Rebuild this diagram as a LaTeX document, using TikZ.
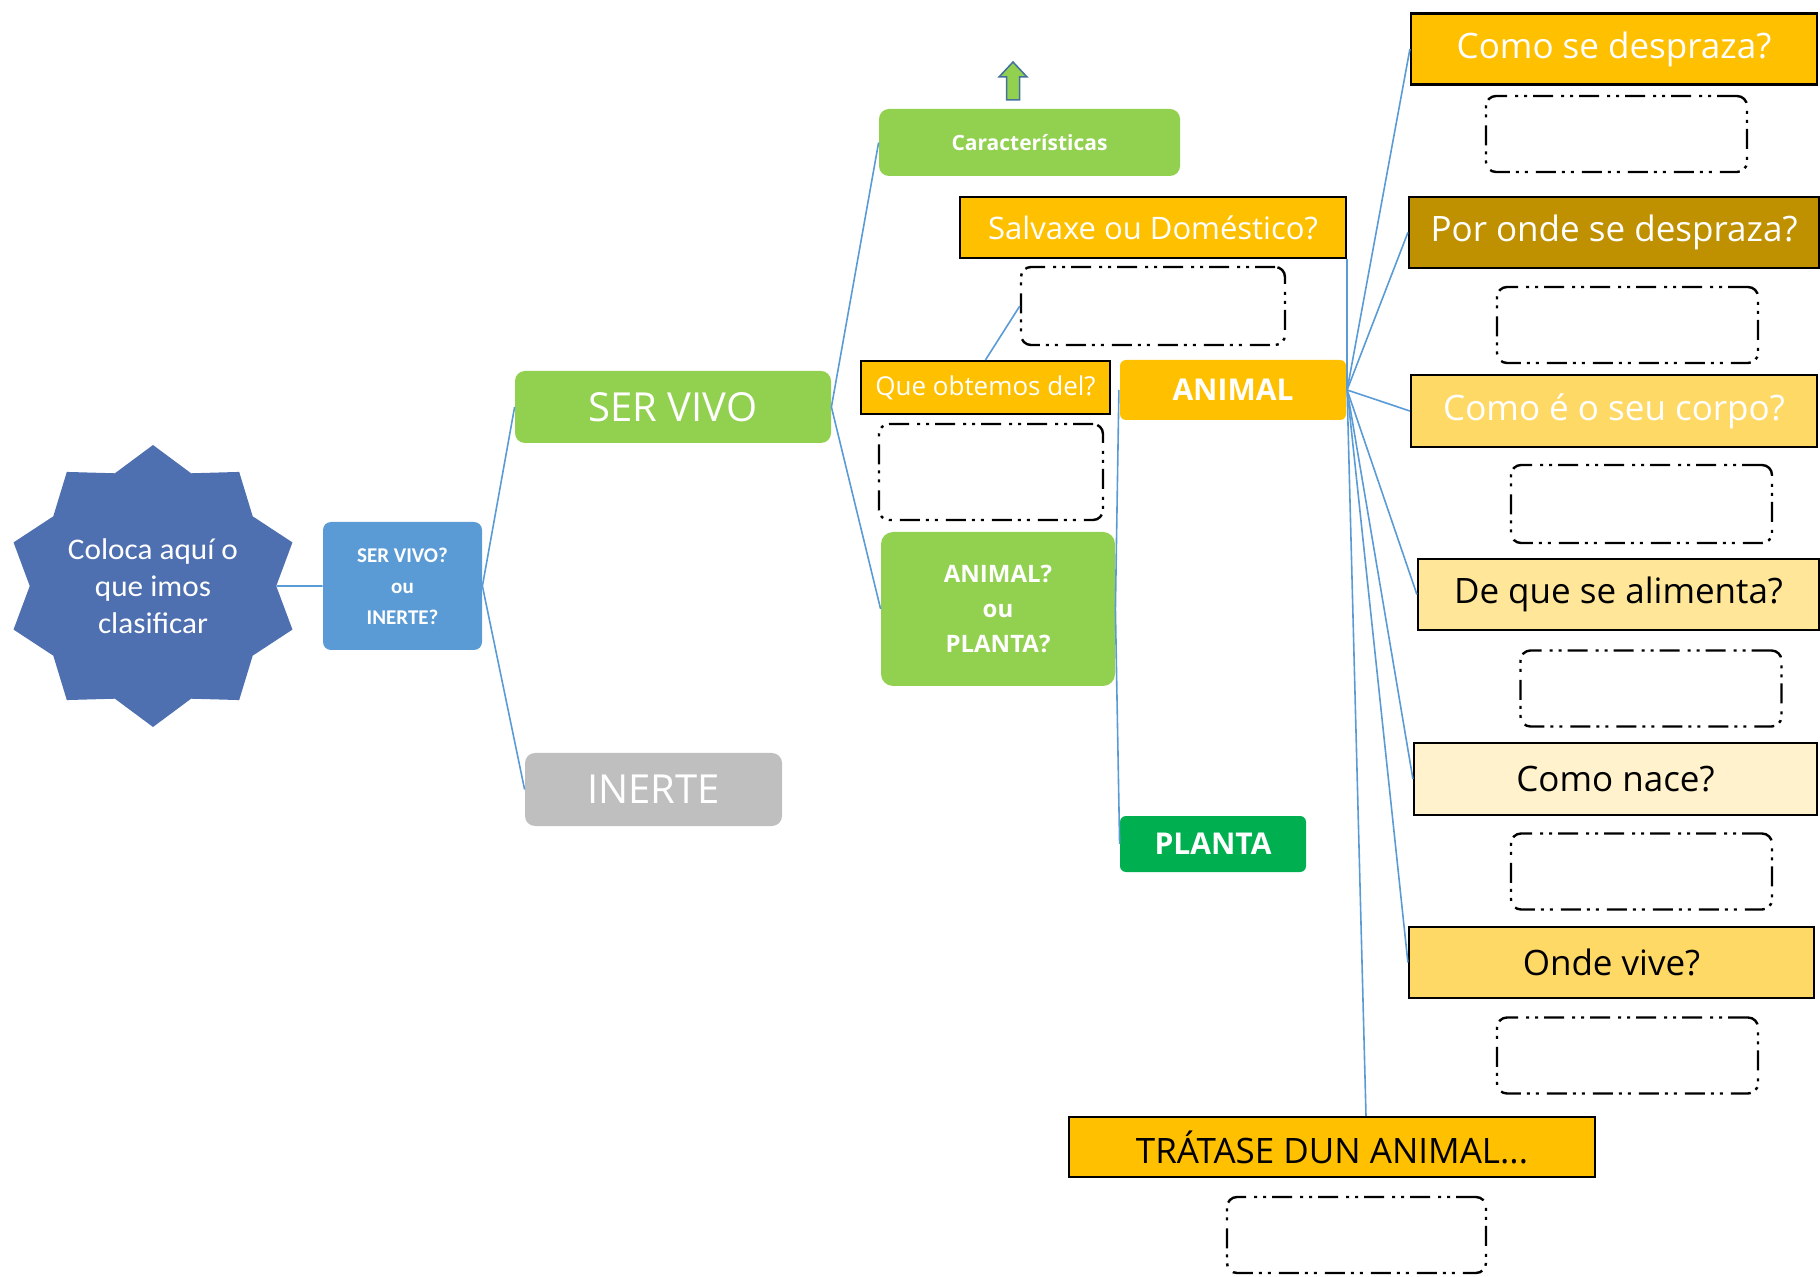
\documentclass[tikz,border=0pt]{standalone}
\usepackage{fontspec}
\setmainfont{Open Sans}
\newfontfamily\carlito{Carlito}
\usetikzlibrary{shapes.geometric,calc}

\definecolor{verde}{HTML}{92D050}
\definecolor{verdeosc}{HTML}{00B050}
\definecolor{azul}{HTML}{5B9BD5}
\definecolor{azulestrela}{RGB}{78,112,176}
\definecolor{gris}{HTML}{BFBFBF}
\definecolor{ouro}{HTML}{FFC000}
\definecolor{ouroosc}{HTML}{BF9000}
\definecolor{ouroclaro}{HTML}{FFD966}
\definecolor{amarelo}{HTML}{FFE699}
\definecolor{crema}{HTML}{FFF2CC}
\definecolor{linha}{HTML}{5B9BD5}
\definecolor{frecha}{HTML}{41719C}

\tikzstyle{link}=[draw=linha,line width=0.8pt]
\tikzstyle{verdebox}=[rounded corners=5pt,fill=verde,text=white,inner sep=0pt]
\tikzstyle{ourobox}=[draw=black,line width=1.1pt,fill=ouro,text=white,inner sep=0pt]
\tikzstyle{pregunta}=[ourobox,font=\fontsize{17.5}{21}\selectfont,minimum width=203pt,minimum height=35.5pt]
\tikzstyle{oco}=[draw=black,line width=1.2pt,rounded corners=5pt,inner sep=0pt,
  dash pattern=on 10pt off 3pt on 1.5pt off 3pt on 1.5pt off 4pt,
  minimum width=130.5pt,minimum height=38pt]

\begin{document}
\begin{tikzpicture}[x=0.5pt,y=-0.5pt]
    \useasboundingbox (0,0) rectangle (1820,1277);
    % primeira decision
    \node[star,star points=10,star point ratio=1.19,minimum size=141pt,inner sep=0pt,xscale=1.04,
          fill=azulestrela,text=white,align=center,font=\carlito\fontsize{15}{18.5}\selectfont]
          (obxecto) at (153,586) {Coloca aquí o\\que imos\\clasificar};
    \node[rounded corners=4pt,fill=azul,text=white,inner sep=0pt,align=center,
          minimum width=79.5pt,minimum height=64pt,font=\carlito\bfseries\fontsize{10.5}{15.5}\selectfont]
          (vivoinerte) at (402.5,586) {SER VIVO?\\ou\\INERTE?};
    \node[verdebox,minimum width=158pt,minimum height=36pt,font=\fontsize{20}{24}\selectfont]
          (servivo) at (673,407) {SER VIVO};
    \node[verdebox,fill=gris,minimum width=128.5pt,minimum height=36.5pt,font=\fontsize{20}{24}\selectfont]
          (inerte) at (653.5,789.5) {INERTE};

    % ser vivo
    \node[verdebox,minimum width=150.5pt,minimum height=33.5pt,font=\bfseries\fontsize{10.5}{13}\selectfont]
          (caract) at (1029.5,142.5) {Características};
    \draw[fill=verde,draw=frecha,line width=0.75pt] (1006.5,100) -- (1006.5,77) -- (999,77) -- (1013,62)
          -- (1027,77) -- (1019.5,77) -- (1019.5,100) -- cycle;
    \node[verdebox,rounded corners=6pt,align=center,minimum width=117pt,minimum height=77pt,
          font=\bfseries\fontsize{12}{17.5}\selectfont]
          (animalplanta) at (998,609) {ANIMAL?\\ou\\PLANTA?};
    \node[ourobox,draw=none,rounded corners=3pt,minimum width=113pt,minimum height=30pt,
          font=\bfseries\fontsize{15}{18}\selectfont] (animal) at (1233,390) {ANIMAL};
    \node[verdebox,fill=verdeosc,rounded corners=3pt,minimum width=93pt,minimum height=28pt,
          font=\bfseries\fontsize{15}{18}\selectfont] (planta) at (1213,844) {PLANTA};

    % animal
    \node[ourobox,minimum width=193pt,minimum height=30.5pt,font=\fontsize{15.5}{19}\selectfont]
          (salvaxe) at (1153,227.5) {Salvaxe ou Doméstico?};
    \node[oco,minimum width=132pt,minimum height=39pt] (osalvaxe) at (1153,306) {};
    \node[ourobox,minimum width=124.5pt,minimum height=26.5pt,font=\fontsize{13}{16}\selectfont]
          (obtemos) at (985.5,387.5) {Que obtemos del?};
    \node[oco,minimum width=112pt,minimum height=48pt] (oobtemos) at (991,472) {};

    \node[pregunta] (p1) at (1614,49) {Como se despraza?};
    \node[oco] (o1) at (1616.5,134) {};
    \node[pregunta,fill=ouroosc,minimum width=205pt] (p2) at (1614,232.5) {Por onde se despraza?};
    \node[oco] (o2) at (1627.5,325) {};
    \node[pregunta,fill=ouroclaro,minimum height=36pt] (p3) at (1614,411) {Como é o seu corpo?};
    \node[oco,minimum height=39pt] (o3) at (1641.5,504) {};
    \node[pregunta,fill=amarelo,text=black,minimum width=200.5pt] (p4) at (1618.5,594.5) {De que se alimenta?};
    \node[oco] (o4) at (1651,688.5) {};
    \node[pregunta,fill=crema,text=black,minimum width=201.5pt,minimum height=36pt] (p5) at (1615.5,779) {Como nace?};
    \node[oco] (o5) at (1641.5,871.5) {};
    \node[pregunta,fill=ouroclaro,text=black,minimum width=202.5pt] (p6) at (1611.5,962.5) {Onde vive?};
    \node[oco] (o6) at (1627.5,1055.5) {};
    \node[pregunta,text=black,minimum width=263pt,minimum height=30pt] (tratase) at (1332,1147) {TRÁTASE DUN ANIMAL...};
    \node[oco,minimum width=129.5pt] (o7) at (1356.5,1235) {};

    \foreach \from/\to in {obxecto.east/vivoinerte.west,vivoinerte.east/servivo.west,vivoinerte.east/inerte.west,
        servivo.east/caract.west,servivo.east/animalplanta.west,animalplanta.east/animal.west,
        animalplanta.east/planta.west,animal.east/salvaxe.south east,obtemos.north/osalvaxe.west,
        animal.east/p1.west,animal.east/p2.west,animal.east/p3.west,animal.east/p4.west,
        animal.east/p5.west,animal.east/p6.west}
    \draw[link] (\from) -- (\to);
    \draw[link] (animal.east) -- ($(tratase.north)+(34,0)$);
\end{tikzpicture}
\end{document}
